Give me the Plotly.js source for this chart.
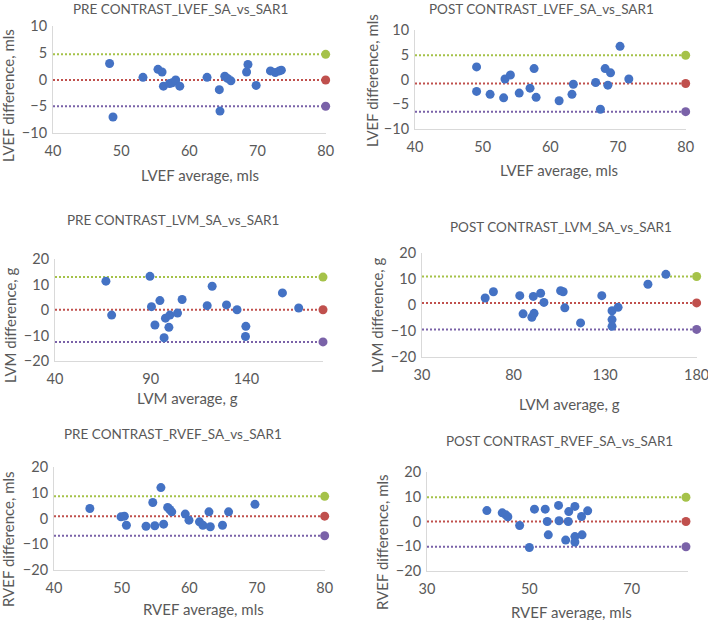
<!DOCTYPE html>
<html>
<head>
<meta charset="utf-8">
<script src="https://cdn.plot.ly/plotly-3.0.1.min.js"></script>
<style>
  body { margin: 0; background: #fff; }
  #chart { width: 708px; height: 620px; }
</style>
</head>
<body>
<div id="chart"></div>
<script>
// average (x) vs difference (y)
var preLvefX = [48.3, 48.8, 53.2, 55.4, 56.0, 56.2, 57.1, 57.5, 58.0, 58.6, 62.6, 64.4, 64.5, 65.2, 65.6, 66.1, 68.4, 68.6, 69.8, 71.9, 72.6, 73.2, 73.5];
var preLvefY = [3.0, -7.0, 0.4, 1.9, 1.4, -1.25, -0.75, -0.6, -0.1, -1.25, 0.4, -1.9, -5.9, 0.6, 0.2, -0.25, 1.4, 2.8, -1.1, 1.6, 1.3, 1.6, 1.75];
var postLvefX = [49.1, 49.1, 51.1, 53.1, 53.3, 54.1, 55.4, 57.0, 57.6, 57.9, 61.3, 63.2, 63.4, 66.7, 67.4, 68.1, 68.5, 68.9, 70.3, 71.6];
var postLvefY = [2.55, -2.4, -3.0, -3.7, 0.1, 0.9, -2.75, -1.75, 2.2, -3.6, -4.3, -3.0, -0.95, -0.6, -6.0, 2.2, -1.15, 1.35, 6.7, 0.1];
var preLvmX = [66.6, 69.6, 89.6, 90.4, 92.2, 94.8, 97.0, 97.7, 99.5, 100.0, 104.0, 106.4, 119.5, 122.1, 129.6, 135.1, 139.7, 139.5, 158.8, 167.3];
var preLvmY = [11.3, -2.0, 13.2, 1.3, -5.9, 3.7, -10.9, -3.2, -6.8, -2.0, -1.2, 4.1, 1.7, 9.3, 2.0, 0.1, -6.4, -10.4, 6.7, 0.8];
var postLvmX = [64.5, 69.0, 83.4, 85.2, 90.0, 90.8, 91.2, 94.8, 96.6, 105.7, 107.1, 108.0, 116.6, 128.2, 133.8, 133.8, 133.8, 137.1, 153.4, 163.2];
var postLvmY = [2.7, 5.1, 3.6, -3.4, -4.7, 3.3, -3.2, 4.5, 1.0, 5.5, 5.1, -1.1, -6.9, 3.6, -2.2, -5.6, -8.2, -0.9, 8.0, 11.8];
var preRvefX = [45.3, 49.9, 50.4, 50.7, 53.6, 54.6, 54.9, 55.8, 56.2, 56.8, 57.1, 57.4, 59.4, 59.95, 61.5, 62.0, 62.9, 63.1, 64.9, 65.8, 69.7];
var preRvefY = [3.9, 0.65, 0.9, -2.6, -3.0, 6.2, -2.8, 12.0, -2.2, 4.3, 3.5, 2.6, 1.7, -0.65, -1.3, -2.6, 2.6, -3.2, -2.6, 2.6, 5.5];
var postRvefX = [41.7, 44.7, 45.4, 45.8, 48.1, 50.0, 51.0, 53.1, 53.5, 53.7, 55.7, 55.8, 57.1, 57.6, 57.7, 58.9, 58.9, 58.9, 60.3, 60.2, 61.4];
var postRvefY = [4.4, 3.5, 2.7, 1.9, -1.6, -10.5, 5.0, 5.0, 0.0, -5.4, 6.5, 0.3, -7.5, 0.0, 4.0, 6.1, -6.1, -8.3, -5.4, 2.0, 4.3];

// limits: [upper, mean bias, lower]
var preLvefLimits = [4.7, -0.1, -5.0];
var postLvefLimits = [4.9, -0.8, -6.5];
var preLvmLimits = [12.9, 0.1, -12.5];
var postLvmLimits = [10.95, 0.8, -9.4];
var preRvefLimits = [8.6, 0.9, -6.7];
var postRvefLimits = [9.8, 0.0, -10.2];
var limitEnd = [80, 80, 180, 180, 80, 80.6];

var titles = ["PRE CONTRAST_LVEF_SA_vs_SAR1", "POST CONTRAST_LVEF_SA_vs_SAR1",
  "PRE CONTRAST_LVM_SA_vs_SAR1", "POST CONTRAST_LVM_SA_vs_SAR1",
  "PRE CONTRAST_RVEF_SA_vs_SAR1", "POST CONTRAST_RVEF_SA_vs_SAR1"];
var xTitles = ["LVEF average, mls", "LVEF average, mls", "LVM average, g", "LVM average, g", "RVEF average, mls", "RVEF average, mls"];
var yTitles = ["LVEF difference, mls", "LVEF difference, mls", "LVM difference, g", "LVM difference, g", "RVEF difference, mls", "RVEF difference, mls"];

var W = 708, H = 620;
var panels = [
  {x: preLvefX, y: preLvefY, lim: preLvefLimits, xr: [40, 80.05], xd: 10, yr: [-10, 10], yd: 5,
   box: [53, 326, 26, 133], t: [180, 9], xt: [200, 175], yt: [8, 96]},
  {x: postLvefX, y: postLvefY, lim: postLvefLimits, xr: [40, 80.05], xd: 10, yr: [-10, 10], yd: 5,
   box: [415, 686, 30, 129], t: [541, 9], xt: [559, 170], yt: [372, 81]},
  {x: preLvmX, y: preLvmY, lim: preLvmLimits, xr: [40, 180], xd: 50, yr: [-20, 20], yd: 10,
   box: [55, 323, 259, 361], t: [173, 220], xt: [187, 398], yt: [10, 325]},
  {x: postLvmX, y: postLvmY, lim: postLvmLimits, xr: [30, 180.2], xd: 50, yr: [-20, 20], yd: 10,
   box: [422, 697, 253, 357], t: [561, 227], xt: [569, 404], yt: [377, 315]},
  {x: preRvefX, y: preRvefY, lim: preRvefLimits, xr: [40, 80.05], xd: 10, yr: [-20, 20], yd: 10,
   box: [54, 325, 467, 570], t: [173, 434], xt: [203, 609], yt: [8, 539]},
  {x: postRvefX, y: postRvefY, lim: postRvefLimits, xr: [30, 81], xd: 20, yr: [-20, 20], yd: 10,
   box: [427, 688, 472, 571], t: [559, 441], xt: [571, 612], yt: [382, 542]}
];

var limitColors = ["#A5C249", "#C0504D", "#7A62A8"];
var textColor = "#595959";
var font = "Lato, 'Open Sans', sans-serif";

var data = [];
var layout = {
  width: W, height: H,
  margin: {l: 0, r: 0, t: 0, b: 0},
  paper_bgcolor: "#fff", plot_bgcolor: "rgba(0,0,0,0)",
  showlegend: false,
  font: {family: font, color: textColor, size: 14},
  annotations: []
};

panels.forEach(function(p, i) {
  var n = i + 1;
  var xa = n === 1 ? "x" : "x" + n;
  var ya = n === 1 ? "y" : "y" + n;
  var xkey = n === 1 ? "xaxis" : "xaxis" + n;
  var ykey = n === 1 ? "yaxis" : "yaxis" + n;

  layout[xkey] = {
    domain: [p.box[0] / W, p.box[1] / W],
    range: p.xr, dtick: p.xd, tick0: p.xr[0],
    showgrid: false, zeroline: false,
    showline: true, linecolor: "#d9d9d9", linewidth: 1,
    ticks: "", ticklabelstandoff: 5, ticklabeloverflow: "allow",
    tickfont: {size: 14.5, color: textColor},
    anchor: ya, fixedrange: true
  };
  layout[ykey] = {
    domain: [1 - p.box[3] / H, 1 - p.box[2] / H],
    range: p.yr, dtick: p.yd, tick0: 0,
    showgrid: false, zeroline: false,
    showline: true, linecolor: "#d9d9d9", linewidth: 1,
    ticks: "", ticklabelstandoff: 2, tickfont: {size: 14.5, color: textColor},
    anchor: xa, fixedrange: true
  };

  // limit lines, dotted, with a marker at the right end
  p.lim.forEach(function(v, k) {
    data.push({
      x: [p.xr[0], limitEnd[i]], y: [v, v],
      xaxis: xa, yaxis: ya, mode: "lines",
      line: {color: limitColors[k], width: 2, dash: "2px,2px"},
      hoverinfo: "skip"
    });
    data.push({
      x: [limitEnd[i]], y: [v],
      xaxis: xa, yaxis: ya, mode: "markers",
      marker: {color: limitColors[k], size: 9},
      cliponaxis: false
    });
  });

  data.push({
    x: p.x, y: p.y, xaxis: xa, yaxis: ya,
    mode: "markers", type: "scatter",
    marker: {color: "#4472C4", size: 9},
    cliponaxis: false
  });

  layout.annotations.push({
    text: titles[i], xref: "paper", yref: "paper",
    x: p.t[0] / W, y: 1 - p.t[1] / H, xanchor: "center", yanchor: "middle",
    showarrow: false, font: {size: 13.5, color: textColor}
  });
  layout.annotations.push({
    text: xTitles[i], xref: "paper", yref: "paper",
    x: p.xt[0] / W, y: 1 - p.xt[1] / H, xanchor: "center", yanchor: "middle",
    showarrow: false, font: {size: 15, color: textColor}
  });
  layout.annotations.push({
    text: yTitles[i], xref: "paper", yref: "paper", textangle: -90,
    x: p.yt[0] / W, y: 1 - p.yt[1] / H, xanchor: "center", yanchor: "middle",
    showarrow: false, font: {size: 15, color: textColor}
  });
});

Plotly.newPlot("chart", data, layout, {staticPlot: true});
</script>
</body>
</html>
